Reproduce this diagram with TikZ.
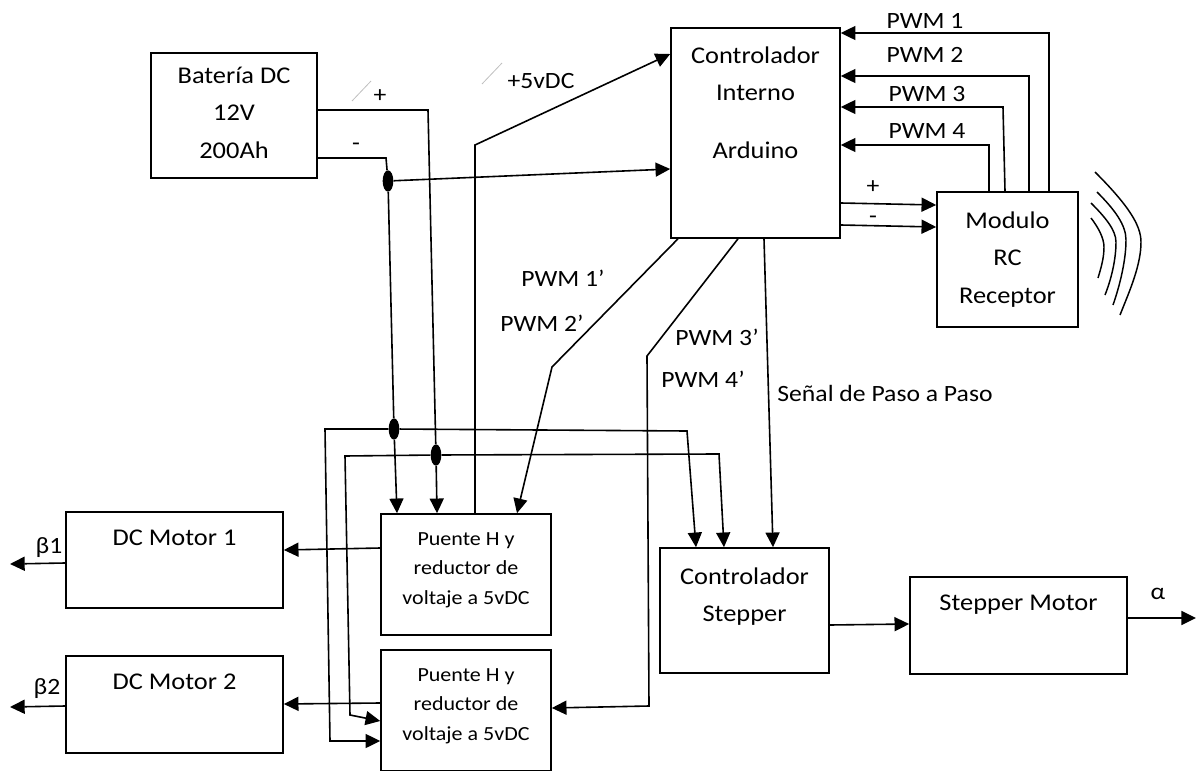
\documentclass[tikz,border=0pt]{standalone}
\usepackage{fontspec}
\setmainfont[FakeStretch=1.1]{Carlito}
\usetikzlibrary{arrows.meta, shapes.geometric}
\newcommand{\tailgap}[1]{\\[#1]\mbox{}}
\begin{document}
\begin{tikzpicture}[
  x=0.75pt, y=-0.75pt,
  sized/.style 2 args={minimum width=#1*0.75pt, minimum height=#2*0.75pt},
  box/.style={draw, line width=1.2pt, align=center, inner sep=0pt,
              font=\fontsize{18}{20}\selectfont},
  smallbox/.style={box, font=\fontsize{15}{22}\selectfont},
  tag/.style={inner sep=0pt, font=\fontsize{17.5}{20}\selectfont},
  dot/.style={ellipse, fill, inner sep=0pt, minimum width=8pt, minimum height=16pt},
  wire/.style={line width=1.2pt},
  arr/.style={wire, -{Triangle[length=11pt, width=10.5pt]}},
  slash/.style={line width=0.6pt, black!25},
  wave/.style={line width=1.1pt},
]
\useasboundingbox (0,0) rectangle (1197,771);
% blocks
\node[box, sized={166}{125}] (batt) at (234,115.5) {\mbox{}\\[-12pt]Batería DC\\[8pt]12V\\[8pt]200Ah};
\node[box, sized={169}{210}] (ctrl) at (755.5,133) {Controlador\\[8pt]Interno\\[23.5pt]Arduino\tailgap{26pt}};
\node[box, sized={141}{135}] (recv) at (1007.5,259.5) {Modulo\\[8pt]RC\\[8pt]Receptor};
\node[smallbox, sized={170}{121}] (hbrA) at (466,574.5) {Puente H y\\reductor de\\voltaje a 5vDC\tailgap{-13pt}};
\node[smallbox, sized={170}{121}] (hbrB) at (466,710.5) {Puente H y\\reductor de\\voltaje a 5vDC\tailgap{-13pt}};
\node[box, sized={169}{125}] (step) at (744.5,610.5) {Controlador\\[8pt]Stepper\tailgap{4pt}};
\node[box, sized={217}{97}] (smot) at (1018.5,625.5) {Stepper Motor\tailgap{14pt}};
\node[box, sized={217}{96}] (mot1) at (174.5,560) {DC Motor 1\tailgap{14pt}};
\node[box, sized={217}{97}] (mot2) at (174.5,704.5) {DC Motor 2\tailgap{14pt}};
% junctions
\node[dot] (jneg) at (388,181) {};
\node[dot] (jbusa) at (394,429) {};
\node[dot] (jbusb) at (436,455) {};
% free ends
\coordinate (outa) at (10,564);
\coordinate (outb) at (10,707);
\coordinate (outc) at (1196,618);
% power from battery
\draw[wire] (batt.east |- 0,110) -- (428,110) -- (jbusb);
\draw[wire] (batt.east |- 0,158) -- (386,158) -- (jneg);
\draw[wire] (jneg) -- (jbusa);
\draw[arr] (jneg) -- (ctrl.west |- 0,169);
\draw[arr] (jbusa) -- (hbrA.north -| 397,0);
\draw[arr] (jbusb) -- (hbrA.north -| 437,0);
% buses
\draw[arr] (jbusa) -- (325,429) -- (330,741) -- (hbrB.west |- 0,741);
\draw[arr] (jbusb) -- (345,456) -- (350,715) -- (hbrB.west |- 0,721);
\draw[arr] (jbusa) -- (687,431) -- (step.north -| 696,0);
\draw[arr] (jbusb) -- (719,454) -- (step.north -| 724,0);
% signals
\draw[arr] (hbrA.north -| 475,0) -- (475,145) -- (ctrl.west |- 0,54);
\draw[arr] (ctrl.south -| 678,0) -- (552,367) -- (hbrA.north -| 517,0);
\draw[arr] (ctrl.south -| 738,0) -- (647,356) -- (649,706) -- (hbrB.east |- 0,708);
\draw[arr] (ctrl.south -| 764,0) -- (step.north -| 773,0);
\draw[arr] (recv.north -| 1049,0) -- (1049,33) -- (ctrl.east |- 0,33);
\draw[arr] (recv.north -| 1029,0) -- (1029,76) -- (ctrl.east |- 0,76);
\draw[arr] (recv.north -| 1005,0) -- (1003,107) -- (ctrl.east |- 0,107);
\draw[arr] (recv.north -| 989,0) -- (989,145) -- (ctrl.east |- 0,145);
\draw[arr] (ctrl.east |- 0,203) -- (recv.west |- 0,205);
\draw[arr] (ctrl.east |- 0,225) -- (recv.west |- 0,227);
% outputs
\draw[arr] (hbrA.west |- 0,548) -- (mot1.east |- 0,550);
\draw[arr] (hbrB.west |- 0,703) -- (mot2.east |- 0,704);
\draw[arr] (step.east |- 0,625) -- (smot.west |- 0,624);
\draw[arr] (mot1.west |- 0,563) -- (outa);
\draw[arr] (mot2.west |- 0,706) -- (outb);
\draw[arr] (smot.east |- 0,618) -- (outc);
% labels
\node[tag] (lplus) at (380,96) {+};
\node[tag] (lminus) at (356,147) {-};
\node[tag] (lfive) at (541,81) {+5vDC};
\node[tag] (lpa) at (925,21) {PWM 1};
\node[tag] (lpb) at (925,55) {PWM 2};
\node[tag] (lpc) at (927,94) {PWM 3};
\node[tag] (lpd) at (927,131) {PWM 4};
\node[tag] (lrp) at (873,187) {+};
\node[tag] (lrm) at (873,220) {-};
\node[tag] (lqa) at (563,278) {PWM 1’};
\node[tag] (lqb) at (542,323) {PWM 2’};
\node[tag] (lqc) at (717,337) {PWM 3’};
\node[tag] (lqd) at (703,379) {PWM 4’};
\node[tag] (lsig) at (885,393) {Señal de Paso a Paso};
\node[tag] (lba) at (49,548) {β1};
\node[tag] (lbb) at (47,689) {β2};
\node[tag] (lal) at (1158,594) {α};
% tick marks
\draw[slash] (352,101) -- (371,81);
\draw[slash] (482,84) -- (502,63);
% radio waves
\draw[wave] (1095,172) .. controls (1128,205) and (1141,225) .. (1141,242) .. controls (1141,265) and (1130,290) .. (1120,315);
\draw[wave] (1097,192) .. controls (1115,210) and (1126,225) .. (1126,240) .. controls (1126,260) and (1120,285) .. (1113,305);
\draw[wave] (1091,203) .. controls (1105,217) and (1116,230) .. (1116,242) .. controls (1116,260) and (1111,280) .. (1105,295);
\draw[wave] (1091,218) .. controls (1098,227) and (1104,238) .. (1104,247) .. controls (1104,258) and (1101,268) .. (1098,278);
\end{tikzpicture}
\end{document}
